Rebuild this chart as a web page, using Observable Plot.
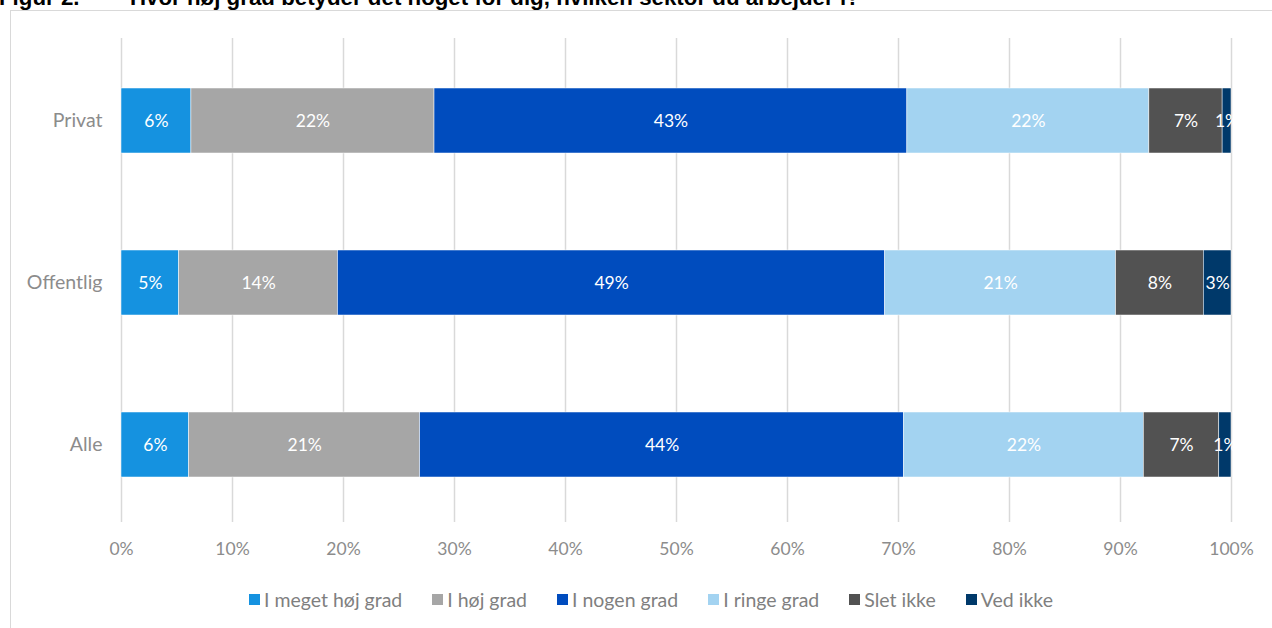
<!DOCTYPE html>
<html>
<head>
<meta charset="utf-8">
<script src="https://cdn.jsdelivr.net/npm/d3@7"></script>
<script src="https://cdn.jsdelivr.net/npm/@observablehq/plot@0.6"></script>
<style>
  html, body { margin: 0; padding: 0; background: #fff; width: 1272px; height: 628px; overflow: hidden; position: relative; }
  #frame { position: absolute; left: 10px; top: 10px; width: 1270px; height: 630px; border: 1px solid #d9d9d9; box-sizing: border-box; }
  #title { position: absolute; top: -15px; left: -1px; font: bold 22.3px "Liberation Sans", Arial, sans-serif; color: #000; white-space: nowrap; }
  #title .q { position: absolute; left: 131px; top: 0; }
  #chart { position: absolute; left: 0; top: 0; }
  #legend { position: absolute; top: 588px; left: 249px; display: flex; font: 19.5px Lato, sans-serif; color: #7f7f7f; white-space: nowrap; }
  .item { display: flex; align-items: center; margin-right: 30px; }
  .sw { width: 11px; height: 11px; margin-right: 4px; display: inline-block; }
</style>
</head>
<body>
<div id="frame"></div>
<div id="title"><span>Figur 2.</span><span class="q">Hvor høj grad betyder det noget for dig, hvilken sektor du arbejder i?</span></div>
<div id="chart"></div>
<div id="legend"></div>
<script>
const categories = ["Privat", "Offentlig", "Alle"];
const responses = ["I meget høj grad", "I høj grad", "I nogen grad", "I ringe grad", "Slet ikke", "Ved ikke"];
const colors = ["#1592e0", "#a6a6a6", "#004cbe", "#a3d3f1", "#525252", "#00396a"];
const privat = [6.3, 21.9, 42.6, 21.8, 6.6, 0.8];
const offentlig = [5.2, 14.3, 49.3, 20.8, 7.9, 2.5];
const alle = [6.1, 20.8, 43.6, 21.6, 6.8, 1.1];
const xTicks = [0, 10, 20, 30, 40, 50, 60, 70, 80, 90, 100];

const series = {Privat: privat, Offentlig: offentlig, Alle: alle};
const rows = [];
for (const c of categories) {
  let cum = 0;
  series[c].forEach((v, i) => {
    rows.push({cat: c, resp: responses[i], value: v, x1: cum, x2: cum + v, mid: cum + v / 2, label: Math.round(v) + "%"});
    cum += v;
  });
}

const chart = Plot.plot({
  width: 1272,
  height: 560,
  marginLeft: 121,
  marginRight: 41,
  marginTop: 39,
  marginBottom: 35,
  style: {fontFamily: "Lato, sans-serif", background: "transparent"},
  x: {domain: [0, 100], ticks: xTicks, tickFormat: d => d + "%", label: null},
  y: {domain: categories, paddingInner: 0.6, paddingOuter: 0.3, label: null},
  color: {domain: responses, range: colors},
  marks: [
    Plot.gridX(xTicks, {stroke: "#d9d9d9", strokeOpacity: 1, strokeWidth: 1.5, insetTop: -1, insetBottom: 3}),
    Plot.barX(rows, {y: "cat", x1: "x1", x2: "x2", fill: "resp", stroke: "#fff", strokeWidth: 0.5}),
    Plot.text(rows, {y: "cat", x: "mid", text: "label", fill: "#fff", fontSize: 17.5}),
    Plot.axisX(xTicks, {tickSize: 0, tickPadding: 17, fontSize: 17.5, color: "#8c8c8c", tickFormat: d => d + "%", label: null}),
    Plot.axisY({tickSize: 0, tickPadding: 19, fontSize: 19.5, color: "#8c8c8c", label: null})
  ]
});
document.getElementById("chart").appendChild(chart);

const legend = document.getElementById("legend");
responses.forEach((r, i) => {
  const item = document.createElement("div");
  item.className = "item";
  const sw = document.createElement("span");
  sw.className = "sw";
  sw.style.background = colors[i];
  item.appendChild(sw);
  item.appendChild(document.createTextNode(r));
  legend.appendChild(item);
});
</script>
</body>
</html>
